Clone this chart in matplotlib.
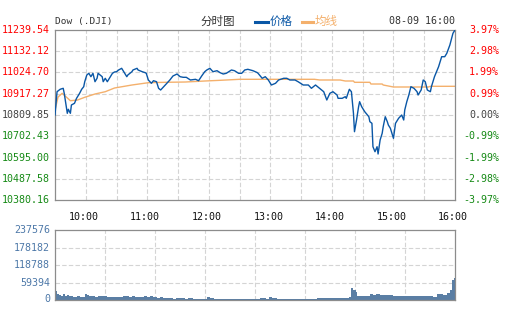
import numpy as np
import matplotlib
matplotlib.use('Agg')
import matplotlib.pyplot as plt
from matplotlib.lines import Line2D

# 等宽数字 + 中文
plt.rcParams['font.family'] = ['DejaVu Sans Mono', 'Noto Sans CJK SC']

W, H = 505, 330

# ---- 数据 ----
prev_close = 10809.85
price_levels = [11239.54, 11132.12, 11024.70, 10917.27, 10809.85,
                10702.43, 10595.00, 10487.58, 10380.16]
pct_labels = ['3.97%', '2.98%', '1.99%', '0.99%', '0.00%',
              '-0.99%', '-1.99%', '-2.98%', '-3.97%']

hour_labels = ['10:00', '11:00', '12:00', '13:00', '14:00', '15:00', '16:00']
hour_min = [30, 90, 150, 210, 270, 330, 390]

# 分钟 (从 9:30 起) 与价格
price_min = [0, 2, 5, 8, 9, 11, 12, 13, 15, 16,
             19, 21, 24, 26, 28, 29, 31, 33, 35, 37,
             39, 41, 42, 44, 46, 47, 49, 51, 54, 56,
             58, 60, 62, 65, 68, 70, 71, 75, 76, 80,
             81, 85, 88, 89, 91, 94, 96, 99, 101, 103,
             106, 109, 112, 115, 119, 122, 125, 128, 132, 137,
             140, 143, 146, 148, 151, 154, 158, 161, 164, 167,
             172, 175, 179, 182, 185, 188, 193, 197, 198, 202,
             205, 208, 211, 215, 218, 223, 226, 229, 234, 237,
             242, 247, 250, 254, 258, 262, 265, 268, 271, 275,
             276, 280, 283, 284, 287, 289, 291, 292, 294, 296,
             297, 299, 302, 306, 307, 309, 310, 312, 314, 315,
             317, 319, 320, 322, 324, 325, 327, 328, 330, 332,
             335, 338, 340, 341, 343, 345, 347, 350, 353, 354,
             357, 359, 361, 363, 366, 367, 370, 374, 377, 380,
             382, 385, 388, 390]
price_val = [10809.9, 10927.6, 10939.8, 10944.8, 10919.5, 10851.8, 10818.4, 10838.7, 10818.4, 10860.4,
             10869.0, 10894.2, 10919.5, 10939.8, 10952.9, 10978.2, 11012.0, 11020.6, 11003.5, 11020.6,
             10978.2, 10995.4, 11020.6, 11012.0, 11003.5, 10978.2, 10995.4, 10978.2, 11003.5, 11020.6,
             11027.2, 11028.8, 11037.3, 11045.9, 11020.6, 11003.5, 11012.0, 11028.8, 11037.3, 11045.9,
             11037.3, 11028.8, 11023.7, 11020.6, 10986.8, 10970.1, 10983.2, 10978.2, 10944.8, 10936.2,
             10952.9, 10970.1, 10986.8, 11007.0, 11017.1, 11003.5, 11000.4, 11000.4, 10986.8, 10990.3,
             10983.2, 11007.0, 11028.8, 11037.3, 11045.9, 11028.8, 11033.8, 11023.7, 11017.1, 11020.6,
             11037.3, 11033.8, 11020.6, 11020.6, 11037.3, 11040.9, 11033.8, 11024.7, 11020.6, 10995.4,
             11003.5, 10986.8, 10961.5, 10970.1, 10986.8, 10995.4, 10995.4, 10986.8, 10986.8, 10978.2,
             10961.5, 10961.5, 10944.8, 10961.5, 10944.8, 10927.6, 10885.7, 10919.5, 10927.6, 10911.0,
             10894.2, 10894.2, 10902.4, 10894.2, 10939.8, 10927.6, 10818.4, 10725.4, 10784.5, 10851.8,
             10877.1, 10851.8, 10826.5, 10801.2, 10776.0, 10767.9, 10649.6, 10624.3, 10649.6, 10612.7,
             10683.5, 10717.3, 10750.7, 10801.2, 10776.0, 10759.3, 10742.6, 10725.4, 10692.0, 10767.9,
             10793.1, 10809.8, 10784.5, 10835.1, 10877.1, 10911.0, 10952.9, 10944.8, 10927.6, 10911.0,
             10936.2, 10986.8, 10978.2, 10936.2, 10927.6, 10952.9, 11003.5, 11054.0, 11104.5, 11104.5,
             11121.7, 11163.7, 11222.8, 11239.5]

# 均线
avg_min = [0, 3, 7, 11, 15, 22, 29, 39, 49, 58, 75, 91, 107, 127, 146, 161,
           180, 219, 253, 258, 278, 283, 291, 292, 307, 308, 319, 320, 330, 364, 366, 390]
avg_val = [10835.1, 10900.8, 10919.5, 10900.8, 10882.1, 10885.7, 10899.3, 10916.0,
           10927.6, 10946.3, 10961.5, 10973.1, 10975.1, 10976.6, 10981.7, 10985.2,
           10990.3, 10990.3, 10990.3, 10986.8, 10986.8, 10981.7, 10981.7, 10975.1,
           10975.1, 10966.5, 10966.5, 10961.5, 10951.4, 10951.4, 10954.9, 10954.9]

# 成交量
vol_levels = [0, 59394, 118788, 178182, 237576]
vol_min = [0, 1, 2, 4, 6, 8, 10, 12, 14, 16, 18, 21, 24, 27, 29, 31, 33, 36, 39, 42,
           45, 48, 51, 54, 57, 60, 63, 66, 69, 72, 75, 78, 81, 84, 87, 90, 93, 96, 99, 102,
           105, 109, 112, 115, 118, 121, 124, 127, 130, 135, 138, 141, 145, 148, 151, 155, 160, 165, 170, 175,
           180, 185, 190, 195, 200, 206, 209, 212, 216, 220, 225, 230, 235, 240, 245, 250, 255, 260, 265, 271,
           275, 279, 283, 287, 289, 291, 293, 294, 298, 302, 305, 307, 310, 313, 317, 320, 324, 327, 330, 334,
           338, 342, 346, 350, 354, 358, 362, 366, 369, 372, 375, 378, 382, 385, 387, 389]
vol_val = [36000, 30000, 22000, 17000, 15000, 20000, 14000, 16000, 12000, 13000,
           11000, 12000, 10500, 11000, 19500, 16000, 12500, 13500, 11500, 12500,
           12000, 13000, 10000, 11500, 9500, 10500, 9500, 12000, 13500, 11500,
           12500, 10500, 11500, 10500, 12000, 11000, 12500, 9000, 8000, 9500,
           7500, 5800, 6500, 5000, 6000, 5200, 6200, 4800, 5500, 4500,
           5000, 4200, 4800, 9000, 5500, 4500, 5000, 4200, 4800, 4300,
           5000, 4400, 4800, 4200, 5200, 4600, 9000, 5500, 4500, 4900,
           4300, 4700, 4200, 4800, 4400, 5000, 6800, 6200, 7500, 8000,
           7000, 8500, 7500, 9000, 40000, 33000, 26000, 14000, 12500, 14500,
           13000, 20500, 17500, 21000, 17000, 15500, 18000, 16000, 13600, 12500,
           14500, 13000, 14000, 12500, 13500, 12000, 14000, 12500, 9000, 19000,
           20500, 18500, 22700, 34000, 68000, 74000]

RED, GREEN, GRAY = '#ff0000', '#168a16', '#444444'
BLUE, ORANGE = '#0a57a6', '#f4b06c'
VOLC = '#5a7ea4'
GRID = '#d4d4d4'


def fx(x):
    return x / W


def fy(y):
    return 1 - y / H


fig = plt.figure(figsize=(W / 100, H / 100), dpi=100)

# ---- 分时主图 ----
ax = fig.add_axes([fx(55), fy(200), fx(400), 170 / H])
ax.set_xlim(0, 390)
ax.set_ylim(price_levels[-1], price_levels[0])
for lv in price_levels[1:-1]:
    ax.axhline(lv, color=GRID, lw=0.8, ls=(0, (4, 2)), zorder=0)
for m in np.arange(30, 390, 30):
    ax.axvline(m, color=GRID, lw=0.8, ls=(0, (4, 2)), zorder=0)
ax.plot(avg_min, avg_val, color=ORANGE, lw=1.0, zorder=2)
ax.plot(price_min, price_val, color=BLUE, lw=1.0, zorder=3)
ax.set_xticks([])
ax.set_yticks([])
for s in ax.spines.values():
    s.set_color('#8c8c8c')
    s.set_linewidth(0.9)

ytr = ax.get_yaxis_transform()
for lv, pl in zip(price_levels, pct_labels):
    c = RED if lv > prev_close + 0.01 else (GRAY if abs(lv - prev_close) < 0.01 else GREEN)
    ax.text(-0.012, lv, f'{lv:.2f}', transform=ytr, ha='right', va='center',
            fontsize=7.2, color=c)
    ax.text(1.11, lv, pl, transform=ytr, ha='right', va='center',
            fontsize=7.2, color=c)

# 时间标签
xtr = ax.get_xaxis_transform()
for m, lab in zip(hour_min, hour_labels):
    ax.text(m - 2, -0.1, lab, transform=xtr, ha='center', va='center',
            fontsize=7.2, color='#111111')

# ---- 成交量 ----
axv = fig.add_axes([fx(55), fy(300), fx(400), 69.7 / H])
axv.set_xlim(0, 390)
axv.set_ylim(0, vol_levels[-1])
for lv in vol_levels[1:-1]:
    axv.axhline(lv, color=GRID, lw=0.8, ls=(0, (4, 2)), zorder=0)
for m in np.linspace(0, 390, 9)[1:-1]:
    axv.axvline(m, color=GRID, lw=0.8, ls=(0, (4, 2)), zorder=0)
widths = np.diff(vol_min + [390])
axv.bar(vol_min, vol_val, width=widths, align='edge', color=VOLC, lw=0, zorder=2)
axv.set_xticks([])
axv.set_yticks([])
for s in axv.spines.values():
    s.set_color('#8c8c8c')
    s.set_linewidth(0.9)
vtr = axv.get_yaxis_transform()
for lv in vol_levels:
    axv.text(-0.012, lv + (5000 if lv == 0 else 0), f'{lv}', transform=vtr,
             ha='right', va='center', fontsize=7.2, color='#4d78a8')

# ---- 顶部标题 ----
fig.text(fx(55), fy(21.5), 'Dow (.DJI)', ha='left', va='center',
         fontsize=6.8, color='#333333')
fig.text(fx(218), fy(21.5), '分时图', ha='center', va='center',
         fontsize=8.3, color='#333333', family=['Noto Sans CJK SC'])
fig.add_artist(Line2D([fx(255), fx(268)], [fy(21.5), fy(21.5)],
                      color=BLUE, lw=2.2))
fig.text(fx(270), fy(21.5), '价格', ha='left', va='center',
         fontsize=8.3, color=BLUE, family=['Noto Sans CJK SC'])
fig.add_artist(Line2D([fx(302), fx(313)], [fy(21.5), fy(21.5)],
                      color=ORANGE, lw=2.2))
fig.text(fx(315), fy(21.5), '均线', ha='left', va='center',
         fontsize=8.3, color=ORANGE, family=['Noto Sans CJK SC'])
fig.text(fx(455), fy(21.5), '08-09 16:00', ha='right', va='center',
         fontsize=7.2, color='#333333')

fig.savefig('out.png', dpi=100, facecolor='white')
